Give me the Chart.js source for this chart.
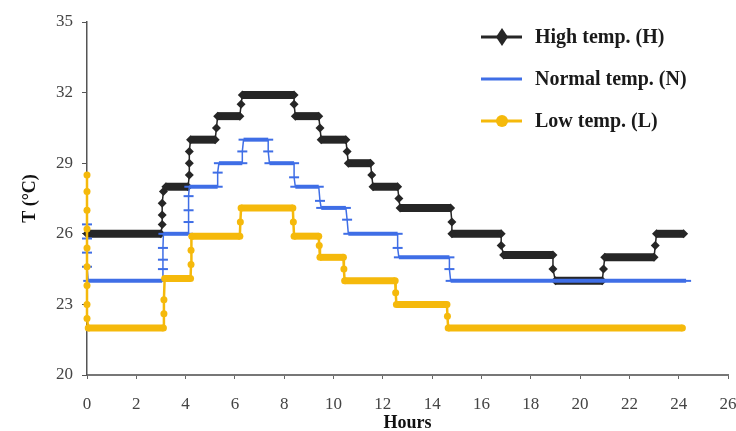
<!DOCTYPE html>
<html>
<head>
<meta charset="utf-8">
<script src="https://cdn.jsdelivr.net/npm/chart.js@4.4.1/dist/chart.umd.min.js"></script>
<style>
  body { margin: 0; background: #fff; }
  #wrap { width: 736px; height: 431px; }
</style>
</head>
<body>
<div id="wrap"><canvas id="myChart"></canvas></div>
<script>
// legend names
var seriesNames = ['High temp. (H)', 'Normal temp. (N)', 'Low temp. (L)'];

// axis ticks
var hourTicks = [0, 2, 4, 6, 8, 10, 12, 14, 16, 18, 20, 22, 24, 26];
var tempTicks = [20, 23, 26, 29, 32, 35];

// high temp. (step profile)
var highHours = [0, 3.0, 3.05, 3.05, 3.05, 3.1, 3.2, 4.1, 4.15, 4.15, 4.15, 4.2, 5.2, 5.25, 5.3, 6.2, 6.25, 6.3,
  8.4, 8.4, 8.45, 9.4, 9.45, 9.5, 10.5, 10.55, 10.6, 11.5, 11.55, 11.6, 12.6, 12.65, 12.7, 14.75, 14.8, 14.8,
  16.8, 16.8, 16.9, 18.9, 18.9, 19.0, 20.9, 20.95, 21.0, 23.0, 23.05, 23.1, 24.2];
var highTemps = [26, 26, 26.4, 26.8, 27.3, 27.8, 28, 28, 28.5, 29, 29.5, 30, 30, 30.5, 31, 31, 31.5, 31.9,
  31.9, 31.5, 31, 31, 30.5, 30, 30, 29.5, 29, 29, 28.5, 28, 28, 27.5, 27.1, 27.1, 26.5, 26,
  26, 25.5, 25.1, 25.1, 24.5, 24, 24, 24.5, 25, 25, 25.5, 26, 26];

// normal temp.
var normalHours = [0, 0, 0, 0, 0.05, 3.05, 3.08, 3.08, 3.08, 3.1, 4.1, 4.12, 4.12, 4.12, 4.15, 5.3, 5.3, 5.35,
  6.3, 6.3, 6.35, 7.35, 7.35, 7.4, 8.4, 8.4, 8.45, 9.4, 9.45, 9.5, 10.5, 10.55, 10.6, 12.6, 12.6, 12.65,
  14.7, 14.7, 14.75, 24.3];
var normalTemps = [26.4, 25.8, 25.2, 24.6, 24, 24, 24.5, 24.9, 25.4, 26, 26, 26.5, 27, 27.6, 28, 28, 28.6, 29,
  29, 29.5, 30, 30, 29.5, 29, 29, 28.4, 28, 28, 27.4, 27.1, 27.1, 26.6, 26, 26, 25.4, 25,
  25, 24.5, 24, 24];

// low temp.
var lowHours = [0, 0, 0, 0, 0, 0, 0, 0, 0, 0.05, 3.1, 3.12, 3.12, 3.15, 4.2, 4.22, 4.22, 4.25, 6.2, 6.22, 6.25,
  8.35, 8.37, 8.4, 9.4, 9.42, 9.45, 10.4, 10.42, 10.45, 12.5, 12.52, 12.55, 14.6, 14.62, 14.65, 24.15];
var lowTemps = [28.5, 27.8, 27, 26.2, 25.4, 24.6, 23.8, 23, 22.4, 22, 22, 22.6, 23.2, 24.1, 24.1, 24.7, 25.3, 25.9, 25.9, 26.5, 27.1,
  27.1, 26.5, 25.9, 25.9, 25.5, 25, 25, 24.5, 24, 24, 23.5, 23, 23, 22.5, 22, 22];

var colors = ['#262626', '#3f6ee6', '#f5b90b'];
var serif = "'Liberation Serif', 'Times New Roman', serif";

function toPoints(xs, ys) {
  return xs.map(function (x, i) { return { x: x, y: ys[i] }; });
}

// flat parts are drawn thick (dense markers in the original), risers thin
function stepWidth(w, riser) {
  return {
    borderWidth: function (ctx) { return ctx.p0.parsed.y === ctx.p1.parsed.y ? w : riser; }
  };
}

// legend drawn at the top right, line sample + marker
var sideLegend = {
  id: 'sideLegend',
  afterDraw: function (chart) {
    var ctx = chart.ctx;
    var rows = [37, 79, 121];
    ctx.save();
    for (var i = 0; i < 3; i++) {
      var y = rows[i];
      ctx.strokeStyle = colors[i];
      ctx.fillStyle = colors[i];
      ctx.lineWidth = 3;
      ctx.beginPath();
      ctx.moveTo(481, y);
      ctx.lineTo(522, y);
      ctx.stroke();
      if (i === 0) {
        ctx.beginPath();
        ctx.moveTo(502, y - 9); ctx.lineTo(508, y); ctx.lineTo(502, y + 9); ctx.lineTo(496, y);
        ctx.closePath();
        ctx.fill();
      } else if (i === 2) {
        ctx.beginPath();
        ctx.arc(502, y, 6, 0, Math.PI * 2);
        ctx.fill();
      }
      ctx.fillStyle = '#1a1a1a';
      ctx.font = 'bold 20px ' + serif;
      ctx.textBaseline = 'middle';
      ctx.fillText(seriesNames[i], 535, y + 1);
    }
    ctx.restore();
  }
};

var grapharea = document.getElementById('myChart');

const data = {
  datasets: [{
    label: seriesNames[0],
    data: toPoints(highHours, highTemps),
    borderColor: colors[0],
    backgroundColor: colors[0],
    pointStyle: 'rectRot',
    pointRadius: 4.5,
    pointBorderWidth: 0,
    segment: stepWidth(8, 1.5),
    clip: 6,
    order: 2
  }, {
    label: seriesNames[1],
    data: toPoints(normalHours, normalTemps),
    borderColor: colors[1],
    backgroundColor: colors[1],
    pointStyle: 'line',
    pointRadius: 5,
    pointBorderWidth: 2,
    segment: stepWidth(4, 1.5),
    clip: 6,
    order: 1
  }, {
    label: seriesNames[2],
    data: toPoints(lowHours, lowTemps),
    borderColor: colors[2],
    backgroundColor: colors[2],
    pointStyle: 'circle',
    pointRadius: 3.5,
    pointBorderWidth: 0,
    segment: stepWidth(7, 2.5),
    clip: 6,
    order: 0
  }]
};

const config = {
  type: 'line',
  data: data,
  options: {
    responsive: true,
    maintainAspectRatio: false,
    animation: false,
    layout: { padding: { top: 22, right: 8, left: 0, bottom: 0 } },
    plugins: { legend: { display: false }, tooltip: { enabled: false } },
    scales: {
      x: {
        type: 'linear',
        min: 0, max: 26,
        afterBuildTicks: function (s) { s.ticks = hourTicks.map(function (v) { return { value: v }; }); },
        afterFit: function (s) { s.height = 56; s.paddingLeft = 0; s.paddingRight = 0; },
        grid: { display: true, drawOnChartArea: false, drawTicks: true, tickLength: 4, color: '#666' },
        border: { display: true, color: '#777', width: 2 },
        ticks: { color: '#444', font: { family: serif, size: 17 }, padding: 15, maxRotation: 0, autoSkip: false },
        title: { display: true, text: 'Hours', color: '#111', font: { family: serif, size: 18, weight: 'bold', lineHeight: 1 }, padding: { top: 0, bottom: -1 } }
      },
      y: {
        min: 20, max: 35,
        afterBuildTicks: function (s) { s.ticks = tempTicks.map(function (v) { return { value: v }; }); },
        afterFit: function (s) { s.width = 87; s.paddingTop = 0; s.paddingBottom = 0; },
        grid: { display: true, drawOnChartArea: false, drawTicks: true, tickLength: 5, color: '#555' },
        border: { display: true, color: '#555', width: 1.5 },
        ticks: { color: '#444', font: { family: serif, size: 17 }, padding: 9 },
        title: { display: true, text: 'T (°C)', color: '#111', font: { family: serif, size: 18, weight: 'bold', lineHeight: 1 }, padding: { top: 21, bottom: 0 } }
      }
    }
  },
  plugins: [sideLegend]
};

const myChart = new Chart(grapharea, config);
</script>
</body>
</html>
